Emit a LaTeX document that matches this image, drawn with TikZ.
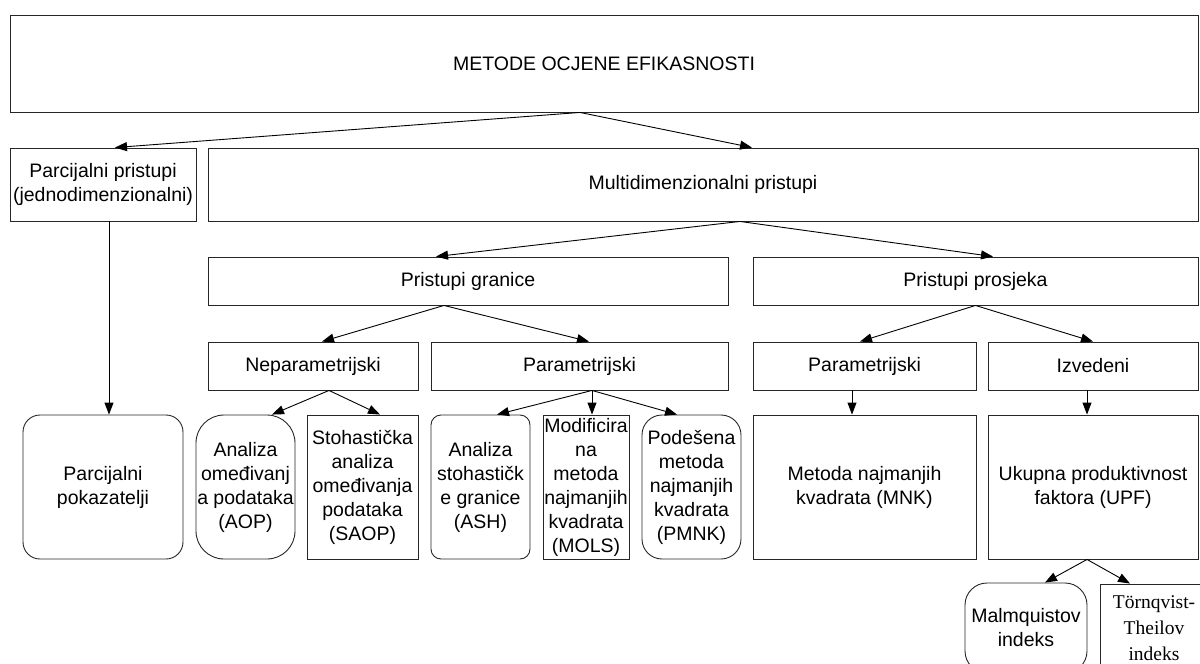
\documentclass[tikz,border=0pt]{standalone}
\usepackage{fontspec}
\setmainfont{Liberation Sans}
\newfontfamily\tornfont{Liberation Serif}
\usetikzlibrary{arrows.meta}
\begin{document}
\begin{tikzpicture}[x=1pt,y=-1pt,
	box/.style={draw=black!85, line width=0.9pt, align=center, inner sep=1pt,
		font=\fontsize{19.5}{24}\selectfont, minimum width=#1},
	box/.default=100pt,
	rbox/.style={box, rounded corners=#1},
	rbox/.default=18pt,
	arr/.style={draw=black, line width=0.9pt, -{Triangle[length=12pt,width=9pt]}}]
	\useasboundingbox (0,0) rectangle (1200,664);
	\node[box=1188pt, minimum height=97pt] (metode) at (604,63.5) {METODE OCJENE EFIKASNOSTI};
	\node[box=186pt, minimum height=73pt] (parc) at (103,184.5) {Parcijalni pristupi\\(jednodimenzionalni)};
	\node[box=990pt, minimum height=73pt] (multi) at (703,184.5) {Multidimenzionalni pristupi};
	\node[box=520pt, minimum height=48pt] (granice) at (468,281) {Pristupi granice};
	\node[box=445pt, minimum height=48pt] (prosjeka) at (975.5,281) {Pristupi prosjeka};
	\node[box=210pt, minimum height=48pt] (nepar) at (313,366) {Neparametrijski};
	\node[box=297pt, minimum height=48pt] (paramL) at (579.5,366) {Parametrijski};
	\node[box=223pt, minimum height=48pt] (paramR) at (864.5,366) {Parametrijski};
	\node[box=210pt, minimum height=48pt] (izv) at (1093,366) {Izvedeni};
	\node[rbox=17pt, minimum width=160pt, minimum height=144pt] (pokaz) at (103,487) {Parcijalni\\pokazatelji};
	\node[rbox=28pt, minimum width=99pt, minimum height=144pt] (aop) at (245.5,487) {Analiza\\omeđivanj\\a podataka\\(AOP)};
	\node[box=111pt, minimum height=144pt] (saop) at (362.5,487) {Stohastička\\analiza\\omeđivanja\\podataka\\(SAOP)};
	\node[rbox=10pt, minimum width=99pt, minimum height=144pt] (ash) at (480.5,487) {Analiza\\stohastičk\\e granice\\(ASH)};
	\node[box=86pt, minimum height=144pt] (mols) at (586,487) {Modificira\\na\\metoda\\najmanjih\\kvadrata\\(MOLS)};
	\node[rbox=20pt, minimum width=99pt, minimum height=144pt] (pmnk) at (691.5,487) {Podešena\\metoda\\najmanjih\\kvadrata\\(PMNK)};
	\node[box=223pt, minimum height=144pt] (mnk) at (864.5,487) {Metoda najmanjih\\kvadrata (MNK)};
	\node[box=210pt, minimum height=144pt] (upf) at (1093,487) {Ukupna produktivnost\\faktora (UPF)};
	\node[rbox=22pt, minimum width=122pt, minimum height=90pt] (malm) at (1026,628) {Malmquistov\\indeks};
	\node[box=108pt, minimum height=88pt, font=\tornfont\fontsize{19.5}{26}\selectfont] (torn) at (1154,628) {Törnqvist-\\Theilov\\indeks};
	\draw[arr] ([xshift=-24pt]metode.south) -- ([xshift=12pt]parc.north);
	\draw[arr] ([xshift=-24pt]metode.south) -- ([xshift=49pt]multi.north);
	\draw[arr] ([xshift=6pt]parc.south) -- ([xshift=6pt]pokaz.north);
	\draw[arr] ([xshift=37pt]multi.south) -- ([xshift=-32pt]granice.north);
	\draw[arr] ([xshift=37pt]multi.south) -- ([xshift=17.5pt]prosjeka.north);
	\draw[arr] ([xshift=-24pt]granice.south) -- ([xshift=9pt]nepar.north);
	\draw[arr] ([xshift=-24pt]granice.south) -- ([xshift=9.5pt]paramL.north);
	\draw[arr] (prosjeka.south) -- ([xshift=-4.5pt]paramR.north);
	\draw[arr] (prosjeka.south) -- (izv.north);
	\draw[arr] ([xshift=16pt]nepar.south) -- ([xshift=26.5pt]aop.north);
	\draw[arr] ([xshift=16pt]nepar.south) -- ([xshift=17.5pt]saop.north);
	\draw[arr] ([xshift=12.5pt]paramL.south) -- ([xshift=16.5pt]ash.north);
	\draw[arr] ([xshift=12.5pt]paramL.south) -- ([xshift=6pt]mols.north);
	\draw[arr] ([xshift=12.5pt]paramL.south) -- ([xshift=-14.5pt]pmnk.north);
	\draw[arr] ([xshift=-12.5pt]paramR.south) -- ([xshift=-12.5pt]mnk.north);
	\draw[arr] ([xshift=-6pt]izv.south) -- ([xshift=-6pt]upf.north);
	\draw[arr] ([xshift=-6pt]upf.south) -- ([xshift=19pt]malm.north);
	\draw[arr] ([xshift=-6pt]upf.south) -- ([xshift=-24pt]torn.north);
\end{tikzpicture}
\end{document}
